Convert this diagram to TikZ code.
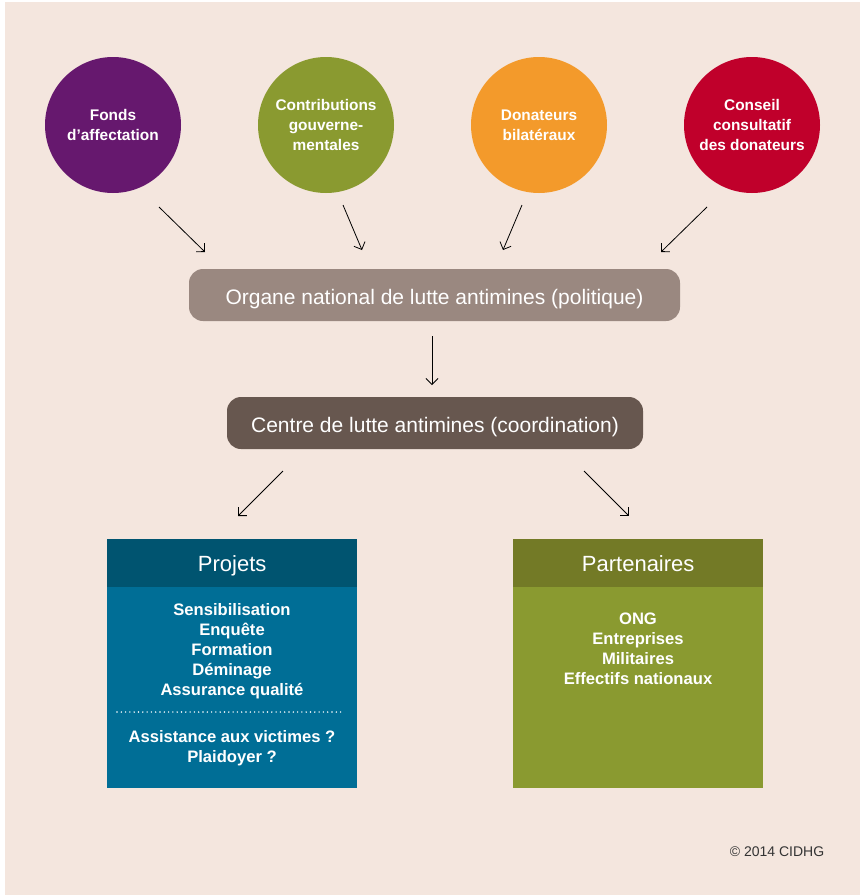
\documentclass[tikz,border=0pt]{standalone}
\usepackage{fontspec}
\setmainfont{Liberation Sans}
\usetikzlibrary{arrows.meta}
\definecolor{bg}{HTML}{F4E6DE}
\definecolor{cpurple}{HTML}{66186E}
\definecolor{cgreen}{HTML}{8A9A30}
\definecolor{corange}{HTML}{F39A2B}
\definecolor{cred}{HTML}{C0002B}
\definecolor{corgane}{HTML}{9A8880}
\definecolor{ccentre}{HTML}{67574F}
\definecolor{cprojhead}{HTML}{005470}
\definecolor{cprojbody}{HTML}{006E96}
\definecolor{cparthead}{HTML}{737A26}
\definecolor{cpartbody}{HTML}{8A9A30}
\definecolor{ccopy}{HTML}{333333}
\begin{document}
\begin{tikzpicture}[x=1pt,y=-1pt,
  circ/.style={circle,minimum size=136pt,inner sep=0pt,align=center,text=white,
    font=\bfseries\fontsize{15.4}{20}\selectfont},
  pill/.style={rounded corners=14pt,minimum height=52pt,inner sep=0pt,text=white,
    text height=18pt,text depth=0pt,font=\fontsize{21}{25}\selectfont},
  panel/.style={anchor=north west,minimum width=250pt,minimum height=249pt,inner sep=0pt},
  phead/.style={anchor=north west,minimum width=250pt,minimum height=48pt,inner sep=0pt,
    text height=16pt,text depth=0pt,text=white,font=\fontsize{22}{26}\selectfont},
  plist/.style={align=center,text=white,inner sep=0pt,font=\bfseries\fontsize{16.6}{20}\selectfont},
  arr/.style={draw=black,line width=0.8pt,-{Straight Barb[length=6pt,width=12pt]}}
]
\fill[white] (0,0) rectangle (860,895);
\fill[bg] (5,2) rectangle (860,895);
\useasboundingbox (0,0) rectangle (860,895);

% circles
\node[circ,fill=cpurple] (fonds) at (113,125) {Fonds\\d’affectation};
\node[circ,fill=cgreen] (contrib) at (326,125) {Contributions\\gouverne-\\mentales};
\node[circ,fill=corange] (donat) at (539,125) {Donateurs\\bilatéraux};
\node[circ,fill=cred] (conseil) at (752,125) {Conseil\\consultatif\\des donateurs};

% pills
\node[pill,fill=corgane,minimum width=491pt] (organe) at (434.5,295) {Organe national de lutte antimines (politique)};
\node[pill,fill=ccentre,minimum width=416pt] (centre) at (435,423) {Centre de lutte antimines (coordination)};

% panels
\node[panel,fill=cprojbody] (proj) at (107,539) {};
\node[phead,fill=cprojhead] (projh) at (107,539) {Projets};
\node[plist] (projl1) at (232,651) {Sensibilisation\\Enquête\\Formation\\Déminage\\Assurance qualité};
\node[plist] (projl2) at (232,748) {Assistance aux victimes ?\\Plaidoyer ?};
\coordinate (dotA) at (117,712);
\coordinate (dotB) at (342,712);
\draw[white,line width=1.6pt,line cap=round,dash pattern=on 0pt off 4.3pt] (dotA) -- (dotB);

\node[panel,fill=cpartbody] (part) at (513,539) {};
\node[phead,fill=cparthead] (parth) at (513,539) {Partenaires};
\node[plist] (partl) at (638,649) {ONG\\Entreprises\\Militaires\\Effectifs nationaux};

% copyright
\node[text=ccopy,font=\fontsize{14}{16}\selectfont,inner sep=0pt] (copy) at (777,852) {© 2014 CIDHG};

% arrows
\coordinate (a1s) at (159,207); \coordinate (a1e) at (205,252);
\coordinate (a2s) at (343,205); \coordinate (a2e) at (362,250);
\coordinate (a3s) at (522,205); \coordinate (a3e) at (503,250);
\coordinate (a4s) at (707,207); \coordinate (a4e) at (661,252);
\coordinate (a5s) at (432,336); \coordinate (a5e) at (432,385);
\coordinate (a6s) at (283,471); \coordinate (a6e) at (238,516);
\coordinate (a7s) at (584,471); \coordinate (a7e) at (629,516);
\draw[arr] (a1s) -- (a1e);
\draw[arr] (a2s) -- (a2e);
\draw[arr] (a3s) -- (a3e);
\draw[arr] (a4s) -- (a4e);
\draw[arr] (a5s) -- (a5e);
\draw[arr] (a6s) -- (a6e);
\draw[arr] (a7s) -- (a7e);
\end{tikzpicture}
\end{document}
